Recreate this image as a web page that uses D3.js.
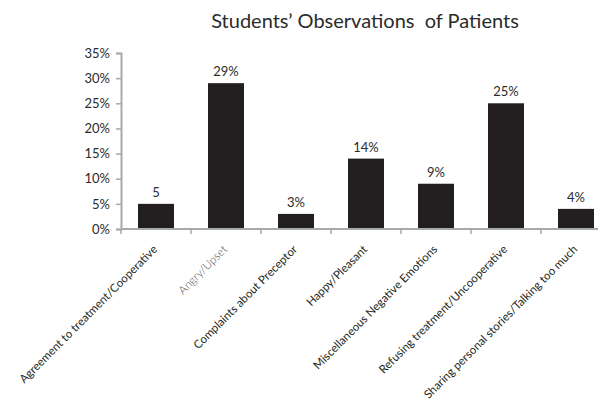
<!DOCTYPE html>
<html>
<head>
<meta charset="utf-8">
<script src="https://cdn.jsdelivr.net/npm/d3@7"></script>
<style>
  html, body { margin: 0; padding: 0; background: #fff; }
  svg { display: block; }
  text { font-family: Lato, "Open Sans", sans-serif; }
</style>
</head>
<body>
<svg id="chart" width="598" height="407"></svg>
<script>
// Observation categories and their share of responses (percent)
const categories = [
  "Agreement to treatment/Cooperative",
  "Angry/Upset",
  "Complaints about Preceptor",
  "Happy/Pleasant",
  "Miscellaneous Negative Emotions",
  "Refusing treatment/Uncooperative",
  "Sharing personal stories/Talking too much"
];
const values = [5, 29, 3, 14, 9, 25, 4];
const valueLabels = ["5", "29%", "3%", "14%", "9%", "25%", "4%"];
const yTicks = [0, 5, 10, 15, 20, 25, 30, 35];
const title = "Students\u2019 Observations\u00a0 of Patients";

const svg = d3.select("#chart");
const plotLeft = 121, plotTop = 53, plotBottom = 229;
const bandStep = 70, barWidth = 36;

const x = d3.scaleBand()
  .domain(categories)
  .range([plotLeft, plotLeft + bandStep * categories.length])
  .padding(0);

const y = d3.scaleLinear().domain([0, 35]).range([plotBottom, plotTop]);
const cx = d => x(d) + x.bandwidth() / 2;

// title
svg.append("text")
  .attr("x", 365).attr("y", 28)
  .attr("text-anchor", "middle")
  .attr("font-size", 20)
  .attr("fill", "#2b2b2b")
  .text(title);

// y axis
const yAxis = svg.append("g")
  .attr("transform", `translate(${plotLeft},0)`)
  .call(d3.axisLeft(y).tickValues(yTicks).tickSize(5).tickPadding(6)
    .tickFormat(d => d + "%"));
yAxis.select(".domain").attr("stroke", "#a7a9ac").attr("stroke-width", 2);
yAxis.selectAll(".tick line").attr("stroke", "#a7a9ac").attr("stroke-width", 1.5);
yAxis.selectAll(".tick text").attr("font-size", 13).attr("fill", "#2b2b2b")
  .style("font-family", "Lato, sans-serif");

// bars
svg.append("g").selectAll("rect")
  .data(values)
  .join("rect")
  .attr("x", (d, i) => cx(categories[i]) - barWidth / 2)
  .attr("width", barWidth)
  .attr("y", d => y(d))
  .attr("height", d => y(0) - y(d))
  .attr("fill", "#231f20");

// value labels
svg.append("g").selectAll("text")
  .data(values)
  .join("text")
  .attr("x", (d, i) => cx(categories[i]))
  .attr("y", d => y(d) - 7)
  .attr("text-anchor", "middle")
  .attr("font-size", 13)
  .attr("fill", "#2b2b2b")
  .text((d, i) => valueLabels[i]);

// x axis line with ticks at band boundaries
const boundaries = categories.map(d => x(d)).concat([x.range()[1]]);
svg.append("line")
  .attr("x1", plotLeft).attr("x2", 598)
  .attr("y1", plotBottom).attr("y2", plotBottom)
  .attr("stroke", "#a7a9ac").attr("stroke-width", 2);
svg.append("g").selectAll("line")
  .data(boundaries)
  .join("line")
  .attr("x1", d => d).attr("x2", d => d)
  .attr("y1", plotBottom).attr("y2", plotBottom + 5)
  .attr("stroke", "#a7a9ac").attr("stroke-width", 1.5);

// rotated category labels
svg.append("g").selectAll("text")
  .data(categories)
  .join("text")
  .attr("transform", d => `translate(${cx(d) + 2},${plotBottom + 21}) rotate(-45)`)
  .attr("text-anchor", "end")
  .attr("font-size", 11.5)
  .attr("fill", (d, i) => i === 1 ? "#505052" : "#231f20")
  .attr("font-weight", (d, i) => i === 1 ? 300 : 400)
  .text(d => d);
</script>
</body>
</html>
